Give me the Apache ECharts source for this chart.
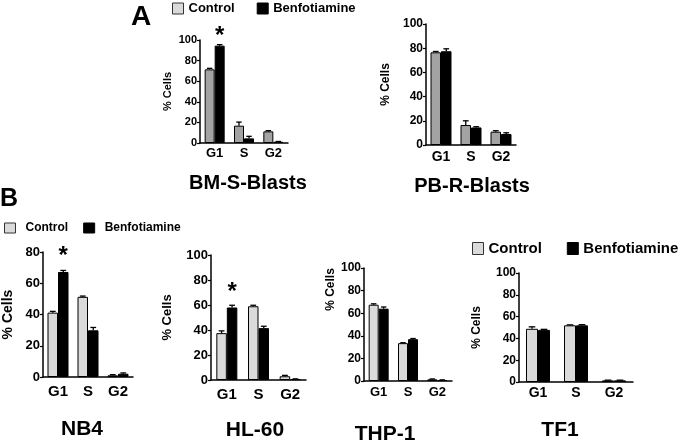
<!DOCTYPE html>
<html><head><meta charset="utf-8">
<script src="https://cdn.jsdelivr.net/npm/echarts@6/dist/echarts.min.js"></script>
<style>html,body{margin:0;padding:0;background:#fff}#c{width:682px;height:442px}</style>
</head><body><div id="c"></div>
<script>
// ---- data ----
const phases = ['G1', 'S', 'G2'];
const seriesNames = ['Control', 'Benfotiamine'];
const panelNames = ['BM-S-Blasts', 'PB-R-Blasts', 'NB4', 'HL-60', 'THP-1', 'TF1'];
const yMaxes = [100, 100, 80, 100, 100, 100];
const yInterval = 20;

const bmControl = [71.5, 16.8, 11.3];   const bmControlErr = [1.0, 3.5, 0.7];
const bmBenfo   = [94.5, 4.5, 1.2];     const bmBenfoErr   = [1.0, 2.0, 0.3];
const bmSig     = [104, null, null];

const pbControl = [76.6, 16.5, 11.0];   const pbControlErr = [0.7, 3.5, 0.8];
const pbBenfo   = [77.5, 14.5, 9.1];    const pbBenfoErr   = [2.0, 0.6, 1.0];
const pbSig     = [null, null, null];

const nb4Control = [41.2, 51.3, 1.1];   const nb4ControlErr = [0.8, 0.5, 0.4];
const nb4Benfo   = [67.2, 29.9, 2.1];   const nb4BenfoErr   = [1.0, 1.8, 0.5];
const nb4Sig     = [77, null, null];

const hlControl = [37.5, 59.0, 3.0];    const hlControlErr = [1.8, 0.8, 0.7];
const hlBenfo   = [58.0, 41.5, 0.7];    const hlBenfoErr   = [1.8, 1.5, 0.2];
const hlSig     = [70, null, null];

const thpControl = [67.5, 33.5, 1.5];   const thpControlErr = [0.8, 0.4, 0.3];
const thpBenfo   = [64.0, 37.0, 0.8];   const thpBenfoErr   = [1.5, 0.6, 0.2];
const thpSig     = [null, null, null];

const tfControl = [48.8, 52.0, 1.5];    const tfControlErr = [1.8, 0.4, 0.2];
const tfBenfo   = [47.8, 52.0, 1.5];    const tfBenfoErr   = [0.5, 0.6, 0.2];
const tfSig     = [null, null, null];

const panelData = [
  [bmControl, bmControlErr, bmBenfo, bmBenfoErr, bmSig],
  [pbControl, pbControlErr, pbBenfo, pbBenfoErr, pbSig],
  [nb4Control, nb4ControlErr, nb4Benfo, nb4BenfoErr, nb4Sig],
  [hlControl, hlControlErr, hlBenfo, hlBenfoErr, hlSig],
  [thpControl, thpControlErr, thpBenfo, thpBenfoErr, thpSig],
  [tfControl, tfControlErr, tfBenfo, tfBenfoErr, tfSig]
];

// ---- layout / style ----
const FONT = "'Liberation Sans', Arial, sans-serif";
const layouts = [
  {left: 200, top: 40,  width: 88,  height: 103, barW: 10,   ctrl: '#a3a3a3', yl: 11, nameFs: 11, nameGap: 27, namePad: 0,  xl: 13, xMargin: 4, title: [248, 183]},
  {left: 426, top: 24,  width: 90,  height: 121, barW: 10.5, ctrl: '#a3a3a3', yl: 12, nameFs: 12, nameGap: 34, namePad: 0,  xl: 14, xMargin: 5, title: [472, 186]},
  {left: 38,  top: 252, width: 95,  height: 125, barW: 10.5, ctrl: '#dadada', yl: 13, nameFs: 14, nameGap: 28, namePad: 0,  xl: 15, xMargin: 7, title: [82, 429]},
  {left: 211, top: 255, width: 95,  height: 125, barW: 10.5, ctrl: '#dadada', yl: 13, nameFs: 13, nameGap: 37, namePad: 0,  xl: 15, xMargin: 7, title: [255, 430]},
  {left: 364, top: 268, width: 88,  height: 113, barW: 10,   ctrl: '#dadada', yl: 12, nameFs: 12, nameGap: 22, namePad: 70, xl: 13, xMargin: 5, title: [385, 434]},
  {left: 519, top: 273, width: 114, height: 109, barW: 12,   ctrl: '#dadada', yl: 12, nameFs: 12, nameGap: 36, namePad: 0,  xl: 14, xMargin: 4, title: [560, 430]}
];

const grids = [], xAxes = [], yAxes = [], series = [], graphics = [];

function errRender(sign, barW) {
  return function (params, api) {
    const i = api.value(0), m = api.value(1), e = api.value(2);
    const base = api.coord([i, m]);
    const top = api.coord([i, m + e]);
    const x = base[0] + sign * barW / 2;
    const cw = barW * 0.55;
    return {type: 'group', children: [
      {type: 'line', shape: {x1: x, y1: base[1], x2: x, y2: top[1]}, style: {stroke: '#000', lineWidth: 1.3}},
      {type: 'line', shape: {x1: x - cw / 2, y1: top[1], x2: x + cw / 2, y2: top[1]}, style: {stroke: '#000', lineWidth: 1.3}}
    ]};
  };
}
function starRender(barW) {
  return function (params, api) {
    const p = api.coord([api.value(0), api.value(1)]);
    return {type: 'text', x: p[0] + barW / 2, y: p[1],
      style: {text: '*', font: 'bold 24px ' + FONT, fill: '#000',
        align: 'center', verticalAlign: 'middle', textAlign: 'center', textVerticalAlign: 'middle'}};
  };
}

layouts.forEach((L, k) => {
  const [ctrl, ctrlErr, benfo, benfoErr, sig] = panelData[k];
  grids.push({left: L.left, top: L.top, width: L.width, height: L.height, containLabel: false});
  xAxes.push({type: 'category', gridIndex: k, data: phases,
    axisLine: {lineStyle: {color: '#000', width: 1.5}},
    axisTick: {alignWithLabel: true, length: 3, lineStyle: {color: '#000', width: 1.2}},
    axisLabel: {color: '#000', fontWeight: 'bold', fontSize: L.xl, fontFamily: FONT, margin: L.xMargin}});
  yAxes.push({type: 'value', gridIndex: k, min: 0, max: yMaxes[k], interval: yInterval,
    name: '% Cells', nameLocation: 'middle', nameGap: L.nameGap,
    nameTextStyle: {color: '#000', fontWeight: 'bold', fontSize: L.nameFs, fontFamily: FONT,
      padding: L.namePad ? [0, 0, 0, L.namePad] : 0},
    axisLine: {show: true, lineStyle: {color: '#000', width: 1.5}},
    axisTick: {show: true, length: 3, lineStyle: {color: '#000', width: 1.2}},
    splitLine: {show: false},
    axisLabel: {color: '#000', fontWeight: 'bold', fontSize: L.yl, fontFamily: FONT, margin: 3}});
  series.push({type: 'bar', name: seriesNames[0], xAxisIndex: k, yAxisIndex: k, data: ctrl,
    barWidth: L.barW, barGap: '0%',
    itemStyle: {color: L.ctrl, borderColor: '#000', borderWidth: 1}});
  series.push({type: 'bar', name: seriesNames[1], xAxisIndex: k, yAxisIndex: k, data: benfo,
    barWidth: L.barW, barGap: '0%',
    itemStyle: {color: '#000', borderColor: '#000', borderWidth: 1}});
  series.push({type: 'custom', xAxisIndex: k, yAxisIndex: k, z: 5,
    data: phases.map((p, i) => [i, ctrl[i], ctrlErr[i]]), renderItem: errRender(-1, L.barW)});
  series.push({type: 'custom', xAxisIndex: k, yAxisIndex: k, z: 5,
    data: phases.map((p, i) => [i, benfo[i], benfoErr[i]]), renderItem: errRender(1, L.barW)});
  const sd = [];
  sig.forEach((v, i) => { if (v != null) sd.push([i, v]); });
  if (sd.length) series.push({type: 'custom', xAxisIndex: k, yAxisIndex: k, z: 6, clip: false,
    data: sd, renderItem: starRender(L.barW)});
  const fs = k < 2 ? 20 : 21;
  graphics.push({type: 'text', x: L.title[0], y: L.title[1],
    style: {text: panelNames[k], font: 'bold ' + fs + 'px ' + FONT, fill: '#000',
      align: 'center', verticalAlign: 'middle', textAlign: 'center', textVerticalAlign: 'middle'}});
});

graphics.push({type: 'text', x: 131, y: 17, style: {text: 'A', font: 'bold 28px ' + FONT, fill: '#000',
  align: 'left', verticalAlign: 'middle', textAlign: 'left', textVerticalAlign: 'middle'}});
graphics.push({type: 'text', x: 0, y: 199, style: {text: 'B', font: 'bold 25px ' + FONT, fill: '#000',
  align: 'left', verticalAlign: 'middle', textAlign: 'left', textVerticalAlign: 'middle'}});

function legendData() {
  return [
    {name: seriesNames[0], icon: 'rect', itemStyle: {color: '#dadada', borderColor: '#333', borderWidth: 1}},
    {name: seriesNames[1], icon: 'rect', itemStyle: {color: '#000', borderColor: '#000', borderWidth: 1}}
  ];
}
const legends = [
  {left: 172, top: 2, itemWidth: 11, itemHeight: 11, itemGap: 22, fs: 13},
  {left: 4, top: 222, itemWidth: 11, itemHeight: 10, itemGap: 15, fs: 12, pad: 5},
  {left: 472, top: 241, itemWidth: 11, itemHeight: 12, itemGap: 25, fs: 15}
].map(g => ({
  left: g.left, top: g.top, padding: 0, itemWidth: g.itemWidth, itemHeight: g.itemHeight, itemGap: g.itemGap,
  selectedMode: false, data: legendData(),
  textStyle: {color: '#000', fontWeight: 'bold', fontSize: g.fs, fontFamily: FONT, padding: g.pad ? [0, 0, 0, g.pad] : 0}
}));

const chart = echarts.init(document.getElementById('c'), null, {renderer: 'canvas'});
chart.setOption({
  animation: false,
  backgroundColor: '#fff',
  textStyle: {fontFamily: FONT},
  legend: legends,
  grid: grids, xAxis: xAxes, yAxis: yAxes, series: series, graphic: graphics
});
</script></body></html>
